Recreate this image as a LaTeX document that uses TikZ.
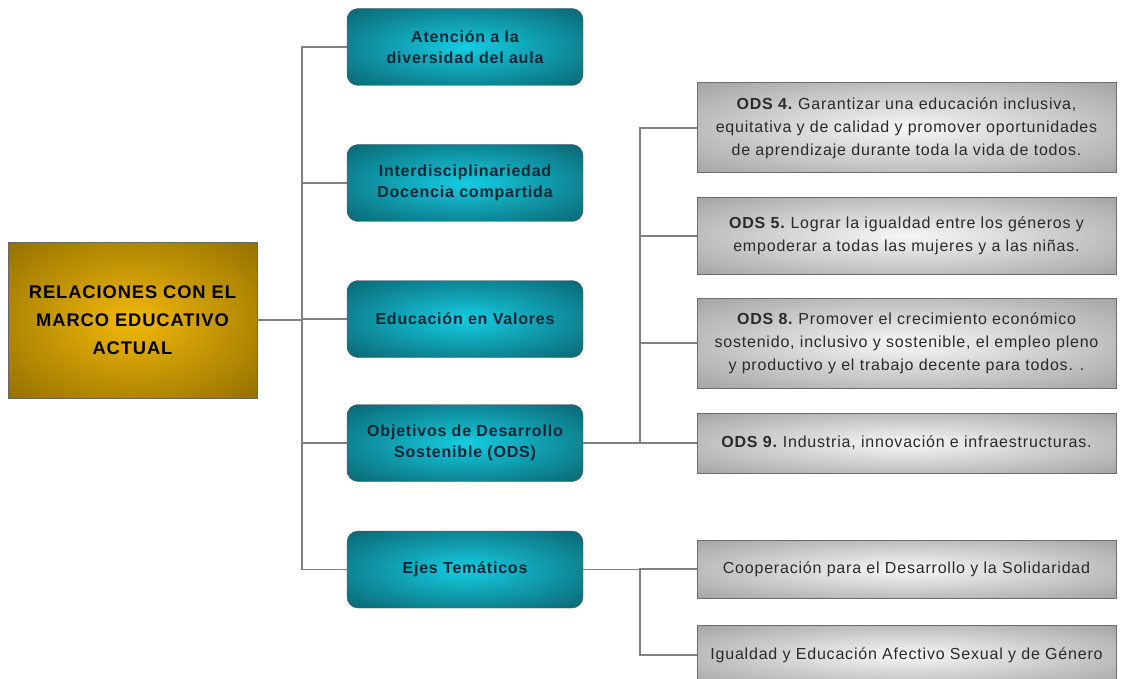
\documentclass[tikz,border=0pt]{standalone}
\usepackage{xcolor}
\usepackage{fontspec}
\setmainfont{Liberation Sans}
\newfontfamily\boxfont[LetterSpace=5]{Liberation Sans}
\usepackage{tikz}
\usetikzlibrary{positioning, shapes, arrows.meta}

\definecolor{goldin}{HTML}{F2B80A}
\definecolor{goldout}{HTML}{927000}
\definecolor{tealin}{HTML}{16CCE2}
\definecolor{tealout}{HTML}{0A6470}
\definecolor{greyin}{HTML}{F7F7F7}
\definecolor{greyout}{HTML}{A3A3A3}
\definecolor{linkgrey}{HTML}{808080}
\definecolor{navytext}{HTML}{0D2634}
\definecolor{greytext}{HTML}{2A2A2A}

\pgfdeclareradialshading{goldglow}{\pgfpoint{0bp}{0bp}}{color(0bp)=(goldin); color(36bp)=(goldout); color(50bp)=(goldout)}
\pgfdeclareradialshading{tealglow}{\pgfpoint{0bp}{0bp}}{color(0bp)=(tealin); color(36bp)=(tealout); color(50bp)=(tealout)}
\pgfdeclareradialshading{greyglow}{\pgfpoint{0bp}{0bp}}{color(0bp)=(greyin); color(36bp)=(greyout); color(50bp)=(greyout)}

\begin{document}
\begin{tikzpicture}[
    x=1pt, y=-1pt,
    rootbox/.style={rectangle, draw=gray!80!black, shading=goldglow, minimum width=249pt, minimum height=156pt, align=center, text=black, font=\boxfont\bfseries\fontsize{18.3}{28}\selectfont},
    topic/.style={rectangle, rounded corners=11pt, draw=gray!70!black, shading=tealglow, minimum width=236pt, minimum height=77pt, align=center, text=navytext, font=\boxfont\bfseries\fontsize{16}{21.5}\selectfont},
    goal/.style={rectangle, draw=gray!85!black, line width=1pt, shading=greyglow, minimum width=419pt, align=center, text=greytext, font=\boxfont\fontsize{16}{23}\selectfont},
    link/.style={draw=linkgrey, line width=1.5pt}
]
\useasboundingbox (0,0) rectangle (1127,679);

% Root node
\node[rootbox] (root) at (132.5,320) {RELACIONES CON EL\\MARCO EDUCATIVO\\ACTUAL};

% Main topics
\node[topic] (t1) at (465,47) {Atención a la\\diversidad del aula};
\node[topic] (t2) at (465,183) {Interdisciplinariedad\\Docencia compartida};
\node[topic] (t3) at (465,319) {Educación en Valores};
\node[topic] (t4) at (465,443) {Objetivos de Desarrollo\\Sostenible (ODS)};
\node[topic] (t5) at (465,569.5) {Ejes Temáticos};

% ODS boxes
\node[goal, minimum height=90pt] (ods4) at (906.5,128) {\textbf{ODS 4.}\hspace{-2pt} Garantizar una educación inclusiva,\\equitativa y de calidad y promover oportunidades\\de aprendizaje durante toda la vida de todos.};
\node[goal, minimum height=77pt] (ods5) at (906.5,236) {\textbf{ODS 5.}\hspace{-2pt} Lograr la igualdad entre los géneros y\\empoderar a todas las mujeres y a las niñas.};
\node[goal, minimum height=90pt] (ods8) at (906.5,343) {\textbf{ODS 8.}\hspace{-2pt} Promover el crecimiento económico\\sostenido, inclusivo y sostenible, el empleo pleno\\y productivo y el trabajo decente para todos. .};
\node[goal, minimum height=60pt] (ods9) at (906.5,443) {\textbf{ODS 9.}\hspace{-2pt} Industria, innovación e infraestructuras.};

% Thematic axes
\node[goal, minimum height=58pt] (eje1) at (906.5,569) {Cooperación para el Desarrollo y la Solidaridad};
\node[goal, minimum height=60pt] (eje2) at (906.5,655) {Igualdad y Educación Afectivo Sexual y de Género};

% Forks
\coordinate (trunk) at (302,320);
\coordinate (odsfork) at (640,443);
\coordinate (ejesfork) at (640,569.5);

% Connectors
\draw[link] (root.east) -- (trunk);
\foreach \t in {t1,t2,t3,t4,t5}
    \draw[link] (trunk) |- (\t.west);
\draw[link] (t4.east) -- (odsfork);
\foreach \g in {ods4,ods5,ods8,ods9}
    \draw[link] (odsfork) |- (\g.west);
\draw[link] (t5.east) -- (ejesfork);
\draw[link] (ejesfork) |- (eje1.west);
\draw[link] (ejesfork) |- (eje2.west);

\end{tikzpicture}
\end{document}
